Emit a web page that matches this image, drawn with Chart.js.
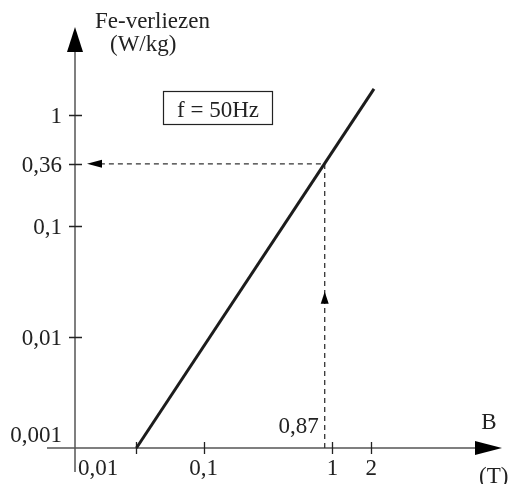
<!DOCTYPE html>
<html>
<head>
<meta charset="utf-8">
<script src="https://cdn.jsdelivr.net/npm/chart.js@4/dist/chart.umd.min.js"></script>
<style>
  html, body { margin: 0; padding: 0; background: #fff; }
  #wrap { width: 508px; height: 484px; }
</style>
</head>
<body>
<div id="wrap"><canvas id="c" width="508" height="484"></canvas></div>
<script>
// Fe losses vs induction (log-log)
const lineB = [0.03, 2.1];
const lineP = [0.001, 1.7];
const xTicks = [0.01, 0.03, 0.1, 1, 2];
const xTickLabels = ['0,01', '', '0,1', '1', '2'];
const yTicks = [0.001, 0.01, 0.1, 0.36, 1];
const yTickLabels = ['0,001', '0,01', '0,1', '0,36', '1'];
const readB = 0.87;
const readP = 0.36;
const readBLabel = '0,87';

const FONT = '23px "Liberation Serif", "DejaVu Serif", serif';
const INK = '#222';
const AXIS = '#555';

function arrow(ctx, tipX, tipY, dir, len, half) {
  ctx.beginPath();
  if (dir === 'up') {
    ctx.moveTo(tipX, tipY); ctx.lineTo(tipX - half, tipY + len); ctx.lineTo(tipX + half, tipY + len);
  } else if (dir === 'right') {
    ctx.moveTo(tipX, tipY); ctx.lineTo(tipX - len, tipY - half); ctx.lineTo(tipX - len, tipY + half);
  } else if (dir === 'left') {
    ctx.moveTo(tipX, tipY); ctx.lineTo(tipX + len, tipY - half); ctx.lineTo(tipX + len, tipY + half);
  }
  ctx.closePath();
  ctx.fill();
}

const sketch = {
  id: 'sketch',
  beforeDatasetsDraw(chart) {
    const {ctx, chartArea: a, scales: {x, y}} = chart;
    const x0 = x.getPixelForValue(x.min);
    const y0 = y.getPixelForValue(y.min);
    ctx.save();
    ctx.strokeStyle = AXIS;
    ctx.fillStyle = '#000';
    ctx.lineWidth = 1.5;

    // axes
    ctx.beginPath();
    ctx.moveTo(x0 - 28, y0); ctx.lineTo(a.right - 20, y0);
    ctx.moveTo(x0, y0 + 24); ctx.lineTo(x0, a.top + 20);
    ctx.stroke();
    arrow(ctx, a.right + 2, y0, 'right', 27, 7);
    arrow(ctx, x0, a.top - 1, 'up', 25, 8);

    // ticks
    ctx.strokeStyle = INK;
    ctx.lineWidth = 1.3;
    ctx.beginPath();
    xTicks.forEach(v => {
      if (v === x.min) return;
      const px = Math.round(x.getPixelForValue(v)) + 0.5;
      ctx.moveTo(px, y0 - 6); ctx.lineTo(px, y0 + 6);
    });
    yTicks.forEach(v => {
      if (v === y.min) return;
      const py = Math.round(y.getPixelForValue(v)) + 0.5;
      ctx.moveTo(x0 - 6, py); ctx.lineTo(x0 + 7, py);
    });
    ctx.stroke();

    // reading guides
    const gx = x.getPixelForValue(readB);
    const gy = y.getPixelForValue(readP);
    ctx.strokeStyle = '#333';
    ctx.lineWidth = 1.3;
    ctx.setLineDash([5, 4]);
    ctx.beginPath();
    ctx.moveTo(gx, y0); ctx.lineTo(gx, gy);
    ctx.lineTo(x0 + 14, gy);
    ctx.stroke();
    ctx.setLineDash([]);
    ctx.fillStyle = '#000';
    arrow(ctx, x0 + 12, gy, 'left', 15, 4);
    arrow(ctx, gx, y0 - 0.55 * (y0 - gy), 'up', 12, 4);
    ctx.restore();
  },
  afterDraw(chart) {
    const {ctx, scales: {x, y}} = chart;
    const x0 = x.getPixelForValue(x.min);
    const y0 = y.getPixelForValue(y.min);
    ctx.save();
    ctx.font = FONT;
    ctx.fillStyle = INK;
    ctx.textBaseline = 'alphabetic';

    // x tick labels
    xTicks.forEach((v, i) => {
      const px = x.getPixelForValue(v);
      if (v === x.min) { ctx.textAlign = 'left'; ctx.fillText(xTickLabels[i], px + 3, y0 + 27); }
      else { ctx.textAlign = 'center'; ctx.fillText(xTickLabels[i], px, y0 + 27); }
    });
    // y tick labels
    ctx.textAlign = 'right';
    yTicks.forEach((v, i) => {
      const py = y.getPixelForValue(v);
      ctx.fillText(yTickLabels[i], x0 - 13, v === y.min ? y0 - 6 : py + 8);
    });

    // reading label
    ctx.fillText(readBLabel, x.getPixelForValue(readB) - 6, y0 - 15);

    // axis titles
    ctx.textAlign = 'left';
    ctx.fillText('Fe-verliezen', x0 + 20, 28);
    ctx.fillText('(W/kg)', x0 + 35, 51);
    ctx.textAlign = 'center';
    ctx.fillText('B', 489, y0 - 19);
    ctx.textAlign = 'left';
    ctx.fillText('(T)', 479, 483);

    // frequency box
    ctx.strokeStyle = INK;
    ctx.lineWidth = 1.2;
    ctx.strokeRect(163.5, 91.5, 109, 33);
    ctx.fillText('f = 50Hz', 177, 117);
    ctx.restore();
  }
};

new Chart(document.getElementById('c'), {
  type: 'scatter',
  data: {
    datasets: [{
      data: lineB.map((b, i) => ({x: b, y: lineP[i]})),
      showLine: true,
      borderColor: '#1c1c1c',
      borderWidth: 3,
      pointRadius: 0,
      clip: false
    }]
  },
  options: {
    responsive: false,
    animation: false,
    devicePixelRatio: 1,
    layout: {padding: {left: 75, right: 8, top: 28, bottom: 36}},
    plugins: {legend: {display: false}, tooltip: {enabled: false}},
    scales: {
      x: {type: 'logarithmic', min: 0.01, max: 20, display: false},
      y: {type: 'logarithmic', min: 0.001, max: 6, display: false}
    }
  },
  plugins: [sketch]
});
</script>
</body>
</html>
